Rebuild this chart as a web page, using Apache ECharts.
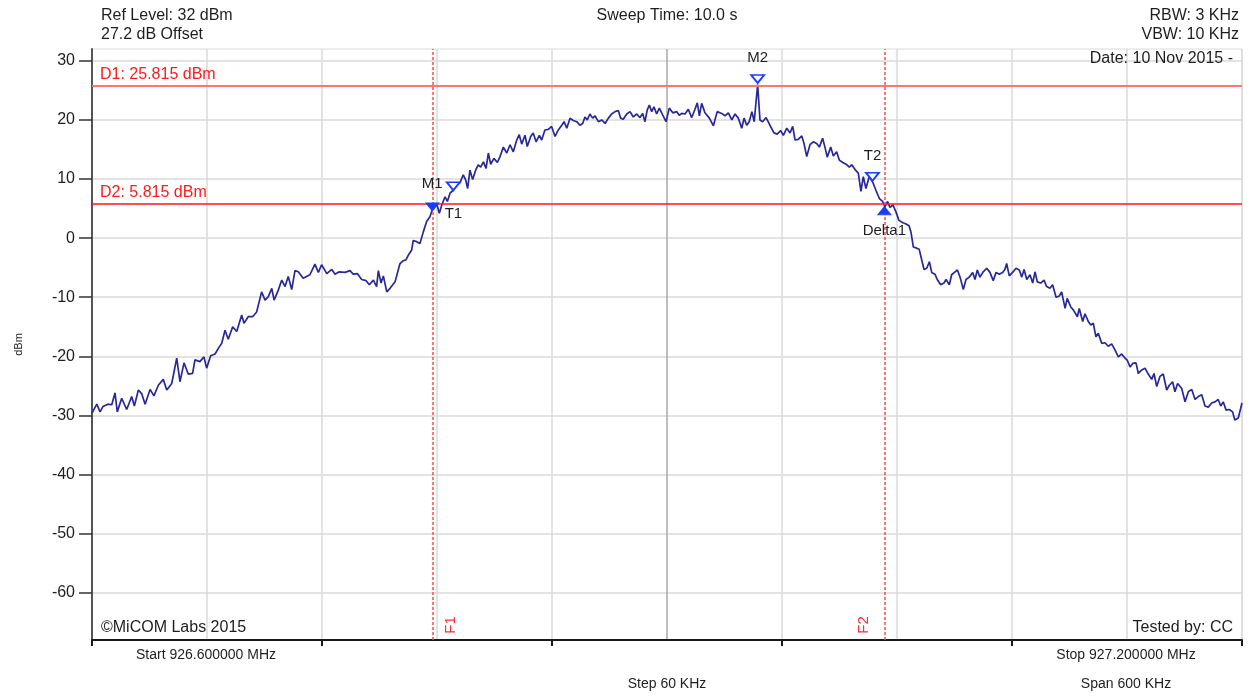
<!DOCTYPE html>
<html>
<head>
<meta charset="utf-8">
<title>Spectrum trace</title>
<script src="https://cdn.jsdelivr.net/npm/echarts@6.0.0/dist/echarts.min.js"></script>
<style>
  html, body { margin: 0; padding: 0; background: #ffffff; }
  #chart { width: 1251px; height: 698px; }
</style>
</head>
<body>
<div id="chart"></div>
<script>
// ---- sweep settings ----
const startMHz = 926.6;
const spanKHz = 600;
const stepKHz = 60;
const refLevelDbm = 32;
const bottomLevelDbm = -68;
const yTickValues = [-60, -50, -40, -30, -20, -10, 0, 10, 20, 30];

// ---- measured trace: frequency offset from start (kHz) and level (dBm) ----
const sweepOffsetKHz = [
  0.0, 2.5, 4.2, 5.7, 8.3, 10.3, 12.0, 13.2, 15.5, 18.1, 20.7, 22.1, 24.2, 25.9, 27.7, 30.3, 32.3, 34.6, 37.2, 39.0,
  41.6, 44.2, 45.9, 48.0, 50.2, 52.5, 53.7, 56.3, 58.4, 59.8, 61.9, 64.2, 66.4, 67.7, 69.4, 71.1, 73.4, 75.5, 78.1, 79.3,
  81.5, 83.8, 85.9, 88.5, 90.3, 92.0, 93.8, 95.0, 97.2, 99.0, 100.7, 102.4, 104.2, 105.9, 107.6, 110.2, 113.7, 116.3, 118.1, 119.8,
  122.5, 125.1, 126.8, 129.0, 132.0, 134.6, 136.3, 138.4, 140.7, 143.0, 144.7, 146.8, 148.5, 149.4, 150.8, 152.0, 153.8, 155.5, 158.1, 159.0,
  160.7, 162.4, 163.8, 165.0, 166.8,
  167.6, 169.4, 171.1, 172.9, 174.6, 176.3, 178.1, 179.8, 181.2, 182.5,
  184.2, 185.4, 186.8, 188.5, 190.3, 192.0, 193.7, 195.0, 196.0, 197.2,
  198.6, 200.3, 201.5, 202.8, 204.2, 205.6, 206.8, 208.0, 209.7, 211.5,
  212.9, 214.6, 216.4, 218.1, 219.8, 221.6, 222.9, 224.2, 225.9, 227.1,
  228.9, 230.2, 231.7, 233.4, 234.6, 236.3, 238.1, 239.8, 241.6, 243.3,
  245.1, 246.3, 247.7, 249.4, 251.1, 252.9, 254.6, 256.0, 257.2, 258.4,
  259.8, 261.2, 262.4, 264.2, 265.9, 267.7, 269.4, 271.1, 272.9, 274.6,
  275.8, 277.2, 279.0, 280.7, 282.4, 284.2, 285.9, 287.3, 288.5, 289.7,
  290.8, 292.0, 293.2, 294.6, 296.0, 297.8, 299.5, 301.2, 303.0, 305.1,
  306.4,
  307.7, 309.4, 311.1, 312.9, 314.6, 315.8, 316.9, 318.1, 319.8, 322.1,
  324.2, 326.2, 328.5, 330.3, 332.0, 333.8, 335.5, 337.2, 339.0, 340.2,
  341.6, 342.9, 344.3, 345.5, 347.3, 348.5, 349.9, 351.7, 353.7, 355.8,
  357.5, 359.3, 360.7, 362.5, 364.2, 365.6, 366.8, 368.5, 370.3, 371.5,
  372.9, 374.6, 376.3, 378.1, 379.5, 381.2, 382.4, 383.6, 385.4, 386.8,
  388.5, 389.9, 391.7, 393.4, 395.1, 396.4, 398.1, 399.8, 401.2, 402.4,
  403.8, 405.5, 407.3, 409.0, 410.8, 412.5, 413.7, 415.1,
  416.3, 417.9, 419.5, 421.0, 423.1, 424.7, 426.3, 427.3, 428.5, 430.3,
  431.6, 432.9, 434.1, 435.5, 436.9, 438.1, 439.8, 441.0, 442.8, 444.5,
  445.6, 447.3, 448.5, 450.3, 451.5, 452.9, 454.6, 456.0, 457.7, 459.5,
  460.7, 461.9, 463.3, 465.0, 466.8, 468.5, 470.2, 471.7, 473.4, 475.1,
  476.3, 477.2, 478.6, 480.3, 482.1, 483.8, 485.1, 486.3, 487.7, 489.4,
  490.8, 492.0, 493.2, 495.0, 496.7, 498.1, 499.8, 501.2, 503.0, 504.7,
  505.9, 507.7, 508.8, 510.6, 512.3, 514.1, 515.1, 516.9, 518.1, 519.8,
  521.1, 522.4, 523.8, 525.0, 526.8, 528.5, 530.2, 532.0, 533.7, 535.5,
  537.2, 539.0, 540.2, 541.6, 543.0, 544.7, 545.9, 547.7, 549.4, 551.1,
  552.9, 554.1, 555.5, 557.2, 558.9, 560.7, 562.1, 563.8, 565.0, 566.4,
  568.5, 570.3, 572.0, 573.8, 575.5, 577.2, 579.0, 580.7, 582.4, 584.2,
  585.9, 587.6, 588.9, 590.2, 591.7, 593.4, 595.1, 596.3, 598.1, 600.0
];
const traceDbm = [
  -29.6, -28.1, -29.4, -28.5, -28.1, -28.2, -26.2, -29.4, -27.1, -29.0, -26.8, -28.4, -25.7, -26.3, -28.1, -25.6, -26.7, -24.9, -23.9, -25.7,
  -24.6, -20.3, -24.3, -21.1, -23.0, -22.9, -20.6, -20.9, -20.1, -22.0, -19.9, -19.6, -18.4, -17.8, -15.6, -17.1, -15.0, -15.8, -13.0, -14.4,
  -13.3, -13.3, -12.5, -9.1, -10.5, -9.9, -8.5, -10.5, -8.8, -7.1, -8.2, -6.5, -8.7, -5.5, -5.7, -6.8, -6.2, -4.4, -5.8, -4.5,
  -6.0, -5.3, -6.1, -5.7, -5.8, -5.5, -6.1, -6.0, -7.0, -7.2, -7.9, -7.1, -8.2, -5.5, -7.6, -6.4, -9.1, -8.5, -7.4, -7.5,
  -4.3, -3.8, -3.7, -2.9, -2.0,
  -0.4, -0.6, -0.9, 1.1, 2.8, 3.6, 5.3, 5.9, 4.2, 5.6,
  7.0, 6.2, 7.6, 8.1, 9.3, 9.4, 10.7, 9.8, 8.4, 11.5,
  9.9, 11.6, 12.4, 12.0, 12.9, 11.8, 14.4, 12.5, 13.5, 12.8,
  13.8, 15.4, 14.4, 15.8, 14.6, 16.6, 17.5, 15.9, 17.4, 15.5,
  17.2, 17.8, 16.3, 17.4, 16.6, 18.3, 18.4, 18.9, 17.2, 18.3,
  19.1, 19.7, 18.6, 20.3, 19.9, 19.7, 19.1, 19.4, 20.5, 20.0,
  21.0, 20.3, 20.7, 19.7, 20.0, 19.4, 20.3, 21.0, 21.4, 21.6,
  20.3, 20.1, 21.0, 21.4, 20.5, 21.0, 20.4, 21.1, 19.7, 21.7,
  22.5, 21.4, 22.2, 21.0, 22.0, 20.8, 19.7, 22.0, 21.2, 21.4,
  20.8,
  21.1, 21.0, 21.8, 20.4, 21.8, 22.9, 20.7, 22.8, 21.2, 20.3,
  19.0, 21.4, 21.1, 20.7, 21.2, 20.0, 21.0, 20.3, 18.6, 20.3,
  19.1, 19.7, 21.4, 19.7, 26.0, 20.0, 19.7, 20.4, 19.1, 17.8,
  17.6, 18.2, 17.4, 18.6, 17.8, 18.9, 16.6, 16.7, 17.3, 16.0,
  13.8, 15.8, 16.3, 16.0, 15.4, 16.9, 15.4, 13.7, 15.4, 13.9,
  14.6, 13.2, 12.8, 12.5, 12.0, 12.4, 11.6, 11.0, 7.9, 10.4,
  8.4, 10.4, 9.5, 8.1, 6.7, 6.2, 5.3, 6.2,
  5.2, 5.6, 4.4, 3.0, 2.6, 2.4, 2.1, 1.0, -1.5, -1.7,
  -1.9, -3.7, -5.3, -5.1, -4.0, -5.8, -6.1, -7.0, -7.9, -7.6,
  -7.0, -7.9, -6.2, -5.7, -5.4, -6.6, -8.7, -7.0, -6.6, -5.8,
  -7.0, -5.4, -6.6, -5.7, -5.1, -5.8, -7.2, -5.8, -6.1, -5.8,
  -5.3, -4.3, -6.4, -5.8, -5.1, -5.4, -6.6, -5.3, -7.0, -6.2,
  -7.6, -5.7, -7.4, -7.6, -7.1, -8.2, -8.5, -7.9, -10.0, -9.8,
  -9.1, -11.9, -10.2, -11.6, -12.3, -13.3, -11.9, -14.1, -12.8, -14.1,
  -14.7, -14.4, -16.7, -16.1, -17.8, -17.7, -18.3, -17.9, -18.9, -20.1,
  -19.6, -20.3, -20.7, -21.8, -21.2, -21.1, -22.9, -22.3, -22.0, -23.0,
  -23.9, -22.9, -25.1, -23.4, -23.0, -25.7, -24.9, -24.3, -26.0, -24.6,
  -25.4, -27.7, -26.0, -25.6, -27.3, -26.8, -26.5, -28.4, -28.6, -27.9,
  -27.7, -27.3, -28.4, -27.7, -29.1, -29.0, -29.4, -30.8, -30.4, -27.9
];

// ---- display lines, frequency lines and markers ----
const displayLineNames = ['D1', 'D2'];
const displayLineDbm = [25.815, 5.815];
const freqLineNames = ['F1', 'F2'];
const freqLineKHz = [177.6, 413.7];
const markerLabels = ['M1', 'T1', 'M2', 'T2', 'Delta1'];
const markerKHz = [188.5, 177.6, 347.3, 407.2, 413.4];
const markerDbm = [8.1, 4.6, 26.25, 9.7, 5.3];
const markerFilled = [false, true, false, false, true];
const markerPointsUp = [false, false, false, false, true];

// ---- annotation texts ----
const headerLeftLines = ['Ref Level: ' + refLevelDbm + ' dBm', '27.2 dB Offset'];
const headerCenterText = 'Sweep Time: 10.0 s';
const headerRightLines = ['RBW: 3 KHz', 'VBW: 10 KHz'];
const dateText = 'Date: 10 Nov 2015 -';
const copyrightText = '\u00A9MiCOM Labs 2015';
const testerText = 'Tested by: CC';
const startText = 'Start ' + startMHz.toFixed(6) + ' MHz';
const stopText = 'Stop ' + (startMHz + spanKHz / 1000).toFixed(6) + ' MHz';
const stepText = 'Step ' + stepKHz + ' KHz';
const spanText = 'Span ' + spanKHz + ' KHz';

// ---- styling ----
const FONT = "'Liberation Sans', Arial, sans-serif";
const TEXT = '#1e1e1e';
const TRACE = '#28289a';
const MARKER_BLUE = '#1a3cff';
const GRID_GREY = '#dadada';

const traceData = sweepOffsetKHz.map((f, i) => [f, traceDbm[i]]);

const verticalSplitColors = [];
for (let i = 0; i <= spanKHz / stepKHz; i++) {
  verticalSplitColors.push(i === spanKHz / stepKHz / 2 ? '#a8a8a8' : GRID_GREY);
}

const markerLabelOffsets = [[-21, -2], [21, 7], [0, -21], [0, -21], [0, 20]];
const markerData = markerLabels.map((name, i) => ({
  value: [markerKHz[i], markerDbm[i]],
  symbol: 'triangle',
  symbolSize: [13, 8],
  symbolRotate: markerPointsUp[i] ? 0 : 180,
  symbolOffset: [0, markerPointsUp[i] ? 4 : -4],
  itemStyle: markerFilled[i]
    ? { color: MARKER_BLUE, borderColor: MARKER_BLUE, borderWidth: 1, opacity: 1 }
    : { color: '#ffffff', borderColor: MARKER_BLUE, borderWidth: 1.8, opacity: 1 },
  label: {
    show: true,
    formatter: name,
    position: 'inside',
    offset: markerLabelOffsets[i],
    color: TEXT,
    opacity: 1,
    fontSize: 15,
    fontFamily: FONT
  }
}));

const displayLineStyles = [
  { color: '#ff7474', width: 2, type: 'solid' },
  { color: '#ff1414', width: 1.5, type: 'solid' }
];

const markLineData = displayLineNames.map((name, i) => ({
  yAxis: displayLineDbm[i],
  lineStyle: displayLineStyles[i],
  label: { formatter: name + ': ' + displayLineDbm[i].toFixed(3) + ' dBm' }
})).concat(freqLineNames.map((name, i) => ({
  xAxis: freqLineKHz[i],
  lineStyle: { color: '#ff4a4a', width: 1.5, type: [3, 2] },
  label: { show: false }
})));

const chart = echarts.init(document.getElementById('chart'), null, { renderer: 'canvas' });

chart.setOption({
  animation: false,
  backgroundColor: '#ffffff',
  grid: {
    left: 92, right: 9, top: 49, bottom: 58,
    show: true, borderColor: GRID_GREY, borderWidth: 1, backgroundColor: 'transparent'
  },
  xAxis: [
    {
      type: 'value', min: 0, max: spanKHz, interval: stepKHz, position: 'bottom',
      axisLine: { show: true, onZero: false, lineStyle: { color: '#1a1a1a', width: 2 } },
      axisTick: { show: false },
      axisLabel: { show: false },
      splitLine: { show: true, lineStyle: { color: verticalSplitColors, width: 1.5 } }
    },
    {
      type: 'value', min: 0, max: spanKHz, interval: stepKHz * 2, position: 'bottom',
      axisLine: { show: false, onZero: false },
      axisTick: { show: true, length: 6, lineStyle: { color: '#1a1a1a', width: 2 } },
      axisLabel: { show: false },
      splitLine: { show: false }
    }
  ],
  yAxis: {
    type: 'value', min: bottomLevelDbm, max: refLevelDbm,
    name: 'dBm', nameLocation: 'middle', nameGap: 68, nameRotate: 90,
    nameTextStyle: { fontSize: 11, color: TEXT, fontFamily: FONT },
    axisLine: { show: true, onZero: false, lineStyle: { color: '#555555', width: 2 } },
    axisTick: { show: true, customValues: yTickValues, length: 13, lineStyle: { color: '#333333', width: 1.5 } },
    axisLabel: { show: true, customValues: yTickValues, margin: 17, fontSize: 16, color: TEXT, fontFamily: FONT },
    splitLine: { show: true, lineStyle: { color: GRID_GREY, width: 1.5 } }
  },
  series: [
    {
      name: 'Trace',
      type: 'line',
      xAxisIndex: 0,
      data: traceData,
      showSymbol: false,
      symbol: 'none',
      silent: true,
      z: 3,
      lineStyle: { color: TRACE, width: 1.7 },
      markLine: {
        silent: true,
        symbol: ['none', 'none'],
        animation: false,
        label: {
          show: true,
          position: 'insideStartTop',
          distance: [8, 3],
          color: '#ff1a1a',
          fontSize: 16,
          fontFamily: FONT
        },
        data: markLineData
      }
    },
    {
      name: 'Markers',
      type: 'scatter',
      xAxisIndex: 0,
      silent: true,
      z: 5,
      data: markerData
    }
  ]
});

// ---- fixed annotation texts placed around the plot ----
function textEl(id, text, x, y, size, align, color, rotation) {
  return {
    type: 'text', id: id, x: x, y: y, rotation: rotation || 0, silent: true, z: 20,
    style: {
      text: text, fontSize: size, fontFamily: FONT, fill: color || TEXT,
      align: align || 'left', verticalAlign: 'middle',
      textAlign: align || 'left', textVerticalAlign: 'middle'
    }
  };
}

const graphics = [
  textEl('ref', headerLeftLines[0], 101, 16, 16, 'left'),
  textEl('offset', headerLeftLines[1], 101, 35, 16, 'left'),
  textEl('sweep', headerCenterText, 667, 16, 16, 'center'),
  textEl('rbw', headerRightLines[0], 1239, 16, 16, 'right'),
  textEl('vbw', headerRightLines[1], 1239, 35, 16, 'right'),
  textEl('date', dateText, 1233, 59, 16, 'right'),
  textEl('copy', copyrightText, 101, 628, 16, 'left'),
  textEl('tester', testerText, 1233, 628, 16, 'right'),
  textEl('start', startText, 206, 655, 14, 'center'),
  textEl('stop', stopText, 1126, 655, 14, 'center'),
  textEl('step', stepText, 667, 684, 14, 'center'),
  textEl('span', spanText, 1126, 684, 14, 'center')
];

// frequency line tags sit near the bottom of each dashed line
const freqTagShift = [18, -21];
freqLineNames.forEach((name, i) => {
  const p = chart.convertToPixel({ gridIndex: 0 }, [freqLineKHz[i], bottomLevelDbm]);
  graphics.push(textEl('tag' + name, name, p[0] + freqTagShift[i], p[1] - 15, 15, 'center', '#ff2a2a', Math.PI / 2));
});

chart.setOption({ graphic: graphics });
</script>
</body>
</html>
